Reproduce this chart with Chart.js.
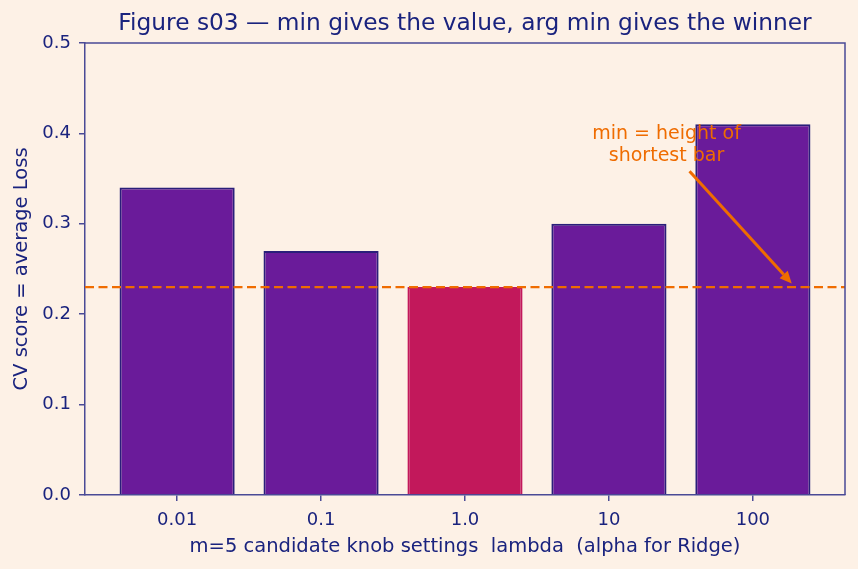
<!DOCTYPE html>
<html>
<head>
<meta charset="utf-8">
<script src="https://cdn.jsdelivr.net/npm/chart.js@4.4.1/dist/chart.umd.min.js"></script>
<style>
  html, body { margin: 0; padding: 0; background: #FDF1E6; }
  #wrap { width: 858px; height: 569px; }
</style>
</head>
<body>
<div id="wrap"><canvas id="c" width="858" height="569"></canvas></div>
<script>
// ---- data ----
const categories = ["0.01", "0.1", "1.0", "10", "100"];
const cvScores = [0.34, 0.27, 0.23, 0.30, 0.41];
const yTicks = [0.0, 0.1, 0.2, 0.3, 0.4, 0.5];
const titleText = "Figure s03 \u2014 min gives the value, arg min gives the winner";
const xLabel = "m=5 candidate knob settings  lambda  (alpha for Ridge)";
const yLabel = "CV score = average Loss";
const noteLines = ["min = height of", "shortest bar"];
const noteTextPos = [3.4, 0.3875];   // data coords of note text centre
const arrowFrom = [3.56, 0.358];
const arrowTo = [4.27, 0.234];

// ---- styles ----
const BG = "#FDF1E6";
const NAVY = "#1A237E";
const AXIS = "#4A4A96";
const PURPLE = "#6A1B9A";
const EDGE = "#2A1F7A";
const CRIMSON = "#C2185B";
const ORANGE = "#EF6C00";
const FONT = "'DejaVu Sans', sans-serif";

const minVal = Math.min(...cvScores);
const argMin = cvScores.indexOf(minVal);

const pts = cvScores.map((v, i) => ({ x: i, y: v }));

const bgPlugin = {
  id: 'bg',
  beforeDraw(chart) {
    const ctx = chart.ctx;
    ctx.save();
    ctx.fillStyle = BG;
    ctx.fillRect(0, 0, chart.width, chart.height);
    ctx.restore();
  }
};

const overlayPlugin = {
  id: 'overlay',
  afterDatasetsDraw(chart) {
    const ctx = chart.ctx;
    const xs = chart.scales.x, ys = chart.scales.y;
    const a = chart.chartArea;
    ctx.save();
    // dashed min line
    const yMin = ys.getPixelForValue(minVal);
    ctx.strokeStyle = ORANGE;
    ctx.lineWidth = 2.2;
    ctx.setLineDash([9, 4.5]);
    ctx.beginPath();
    ctx.moveTo(a.left, yMin);
    ctx.lineTo(a.right, yMin);
    ctx.stroke();
    ctx.setLineDash([]);
    // arrow
    const x1 = xs.getPixelForValue(arrowFrom[0]), y1 = ys.getPixelForValue(arrowFrom[1]);
    const x2 = xs.getPixelForValue(arrowTo[0]), y2 = ys.getPixelForValue(arrowTo[1]);
    const ang = Math.atan2(y2 - y1, x2 - x1);
    const hl = 12, hw = 5.5;
    const bx = x2 - hl * Math.cos(ang), by = y2 - hl * Math.sin(ang);
    ctx.lineWidth = 3;
    ctx.beginPath();
    ctx.moveTo(x1, y1);
    ctx.lineTo(bx, by);
    ctx.stroke();
    ctx.fillStyle = ORANGE;
    ctx.beginPath();
    ctx.moveTo(x2, y2);
    ctx.lineTo(bx + hw * Math.sin(ang), by - hw * Math.cos(ang));
    ctx.lineTo(bx - hw * Math.sin(ang), by + hw * Math.cos(ang));
    ctx.closePath();
    ctx.fill();
    // note text
    ctx.font = "19px " + FONT;
    ctx.textAlign = "center";
    ctx.textBaseline = "middle";
    const tx = xs.getPixelForValue(noteTextPos[0]);
    const ty = ys.getPixelForValue(noteTextPos[1]);
    ctx.fillText(noteLines[0], tx, ty - 11);
    ctx.fillText(noteLines[1], tx, ty + 11);
    // top & right spines
    ctx.strokeStyle = AXIS;
    ctx.lineWidth = 1.5;
    ctx.beginPath();
    ctx.moveTo(a.left, a.top);
    ctx.lineTo(a.right, a.top);
    ctx.lineTo(a.right, a.bottom);
    ctx.stroke();
    ctx.restore();
  }
};

new Chart(document.getElementById('c'), {
  type: 'bar',
  data: {
    datasets: [{
      data: pts,
      backgroundColor: cvScores.map((v, i) => i === argMin ? CRIMSON : PURPLE),
      borderColor: cvScores.map((v, i) => i === argMin ? CRIMSON : EDGE),
      borderWidth: 2,
      borderSkipped: 'bottom',
      categoryPercentage: 1.0,
      barPercentage: 0.8
    }]
  },
  options: {
    responsive: false,
    animation: false,
    devicePixelRatio: 1,
    layout: { padding: { left: 0, right: 13, top: 0, bottom: 0 } },
    plugins: {
      legend: { display: false },
      tooltip: { enabled: false },
      title: {
        display: true,
        text: titleText,
        fullSize: false,
        color: NAVY,
        font: { family: FONT, size: 23.3, weight: 'normal', lineHeight: 1.2 },
        padding: { top: 10, bottom: 5 }
      }
    },
    scales: {
      x: {
        type: 'linear',
        offset: false,
        min: -0.64,
        max: 4.64,
        afterBuildTicks(scale) {
          scale.ticks = categories.map((c, i) => ({ value: i }));
        },
        afterFit(scale) { scale.height = 74; },
        ticks: {
          color: NAVY,
          font: { family: FONT, size: 18 },
          padding: 9,
          maxRotation: 0,
          autoSkip: false,
          callback: (v) => categories[v]
        },
        grid: { offset: false, drawOnChartArea: false, drawTicks: true, tickLength: 6, color: AXIS, lineWidth: 1.5 },
        border: { color: AXIS, width: 1.5 },
        title: {
          display: true, text: xLabel, color: NAVY,
          font: { family: FONT, size: 19.5 },
          padding: { top: 0, bottom: 10 }
        }
      },
      y: {
        min: 0,
        max: 0.5,
        afterBuildTicks(scale) {
          scale.ticks = yTicks.map(v => ({ value: v }));
        },
        afterFit(scale) { scale.width = 85; },
        ticks: {
          color: NAVY,
          font: { family: FONT, size: 18 },
          padding: 8,
          callback: (v) => v.toFixed(1)
        },
        grid: { drawOnChartArea: false, drawTicks: true, tickLength: 6, color: AXIS, lineWidth: 1.5 },
        border: { color: AXIS, width: 1.5 },
        title: {
          display: true, text: yLabel, color: NAVY,
          font: { family: FONT, size: 19.5 },
          padding: { top: 10, bottom: 0 }
        }
      }
    }
  },
  plugins: [bgPlugin, overlayPlugin]
});
</script>
</body>
</html>
